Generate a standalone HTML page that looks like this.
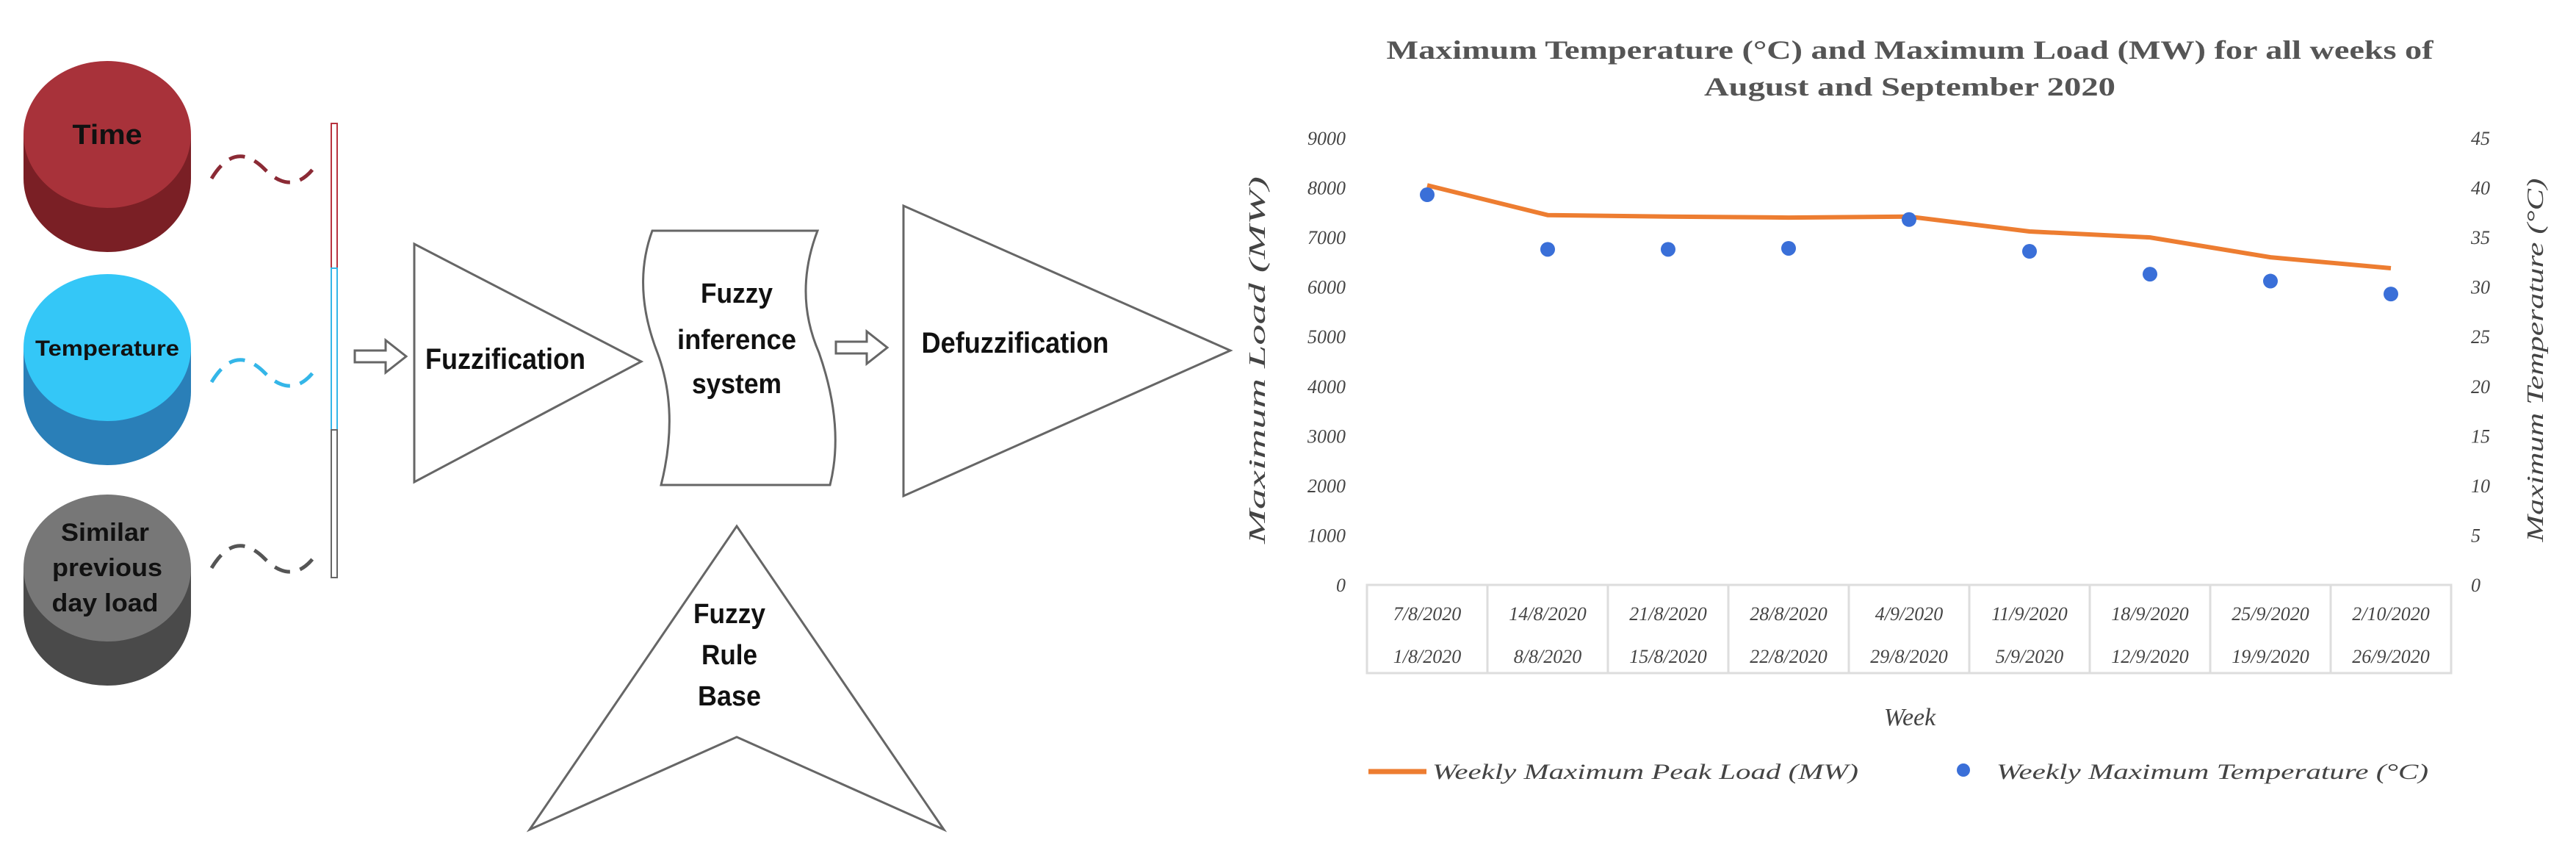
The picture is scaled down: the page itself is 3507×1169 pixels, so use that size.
<!DOCTYPE html>
<html><head><meta charset="utf-8"><style>
html,body{margin:0;padding:0;background:#fff;}
svg{display:block;}
.dg{font-family:"Liberation Sans",sans-serif;font-weight:bold;fill:#111;}
.sf{font-family:"Liberation Serif",serif;font-style:italic;fill:#444;}
</style></head><body>
<svg id="root" width="3507" height="1169" viewBox="0 0 3507 1169">
<g>
  <g>
    <rect x="32" y="183" width="228" height="60" fill="#7a1f25"/>
    <ellipse cx="146" cy="243" rx="114" ry="100" fill="#7a1f25"/>
    <ellipse cx="146" cy="183" rx="114" ry="100" fill="#a8323a"/>
    <text class="dg" x="146" y="196" font-size="38" text-anchor="middle" textLength="95" lengthAdjust="spacingAndGlyphs">Time</text>
  </g>
  <g>
    <rect x="32" y="473" width="228" height="60" fill="#2a7fb8"/>
    <ellipse cx="146" cy="533" rx="114" ry="100" fill="#2a7fb8"/>
    <ellipse cx="146" cy="473" rx="114" ry="100" fill="#34c7f7"/>
    <text class="dg" x="146" y="484" font-size="30" text-anchor="middle" textLength="196" lengthAdjust="spacingAndGlyphs">Temperature</text>
  </g>
  <g>
    <rect x="32" y="773" width="228" height="60" fill="#4a4a4a"/>
    <ellipse cx="146" cy="833" rx="114" ry="100" fill="#4a4a4a"/>
    <ellipse cx="146" cy="773" rx="114" ry="100" fill="#777"/>
    <text class="dg" x="143" y="736" font-size="34" text-anchor="middle" fill="#222" textLength="120" lengthAdjust="spacingAndGlyphs">Similar</text>
    <text class="dg" x="146" y="784" font-size="34" text-anchor="middle" fill="#222" textLength="150" lengthAdjust="spacingAndGlyphs">previous</text>
    <text class="dg" x="143" y="832" font-size="34" text-anchor="middle" fill="#222" textLength="145" lengthAdjust="spacingAndGlyphs">day load</text>
  </g>
  <g fill="none" stroke-width="5" stroke-dasharray="22 14">
    <path d="M288 243 Q320 190 360 230 T432 222" stroke="#8b2a35"/>
    <path d="M288 520 Q320 467 360 507 T432 499" stroke="#34b6e8"/>
    <path d="M288 773 Q320 720 360 760 T432 752" stroke="#555"/>
  </g>
  <g>
    <rect x="451" y="168" width="8" height="197" fill="#fff" stroke="#b8333f" stroke-width="2"/>
    <rect x="451" y="365" width="8" height="220" fill="#fff" stroke="#34b6e8" stroke-width="2"/>
    <rect x="451" y="585" width="8" height="201" fill="#fff" stroke="#666" stroke-width="2"/>
  </g>
  <g fill="#fff" stroke="#666" stroke-width="3">
    <path d="M483 477 h42 v-14 l28 22 l-28 22 v-14 h-42 z"/>
    <path d="M1138 465 h42 v-14 l28 22 l-28 22 v-14 h-42 z"/>
    <path d="M564 332 L564 656 L873 492 Z"/>
    <path d="M888 314 L1113 314 Q1080 400 1115 480 Q1150 580 1130 660 L900 660 Q925 560 895 480 Q860 390 888 314 Z"/>
    <path d="M1230 280 L1230 675 L1675 477 Z"/>
    <path d="M1003 716 L1285 1129 L1003 1003 L721 1129 Z"/>
  </g>
  <text class="dg" x="688" y="502" font-size="40" text-anchor="middle" textLength="218" lengthAdjust="spacingAndGlyphs">Fuzzification</text>
  <g class="dg" font-size="38" text-anchor="middle">
    <text x="1003" y="412" textLength="98" lengthAdjust="spacingAndGlyphs">Fuzzy</text>
    <text x="1003" y="475" textLength="162" lengthAdjust="spacingAndGlyphs">inference</text>
    <text x="1003" y="535" textLength="122" lengthAdjust="spacingAndGlyphs">system</text>
  </g>
  <text class="dg" x="1382" y="480" font-size="40" text-anchor="middle" textLength="255" lengthAdjust="spacingAndGlyphs">Defuzzification</text>
  <g class="dg" font-size="38" text-anchor="middle">
    <text x="993" y="848" textLength="98" lengthAdjust="spacingAndGlyphs">Fuzzy</text>
    <text x="993" y="904" textLength="76" lengthAdjust="spacingAndGlyphs">Rule</text>
    <text x="993" y="960" textLength="86" lengthAdjust="spacingAndGlyphs">Base</text>
  </g>
</g>
<g id="chart">
  <text x="2600" y="80" font-family="Liberation Serif,serif" font-weight="bold" font-size="36" fill="#555" text-anchor="middle" textLength="1425" lengthAdjust="spacingAndGlyphs">Maximum Temperature (°C) and Maximum Load (MW) for all weeks of</text>
  <text x="2600" y="130" font-family="Liberation Serif,serif" font-weight="bold" font-size="36" fill="#555" text-anchor="middle" textLength="560" lengthAdjust="spacingAndGlyphs">August and September 2020</text>
  <text class="sf" transform="translate(1722,490) rotate(-90)" font-size="32" text-anchor="middle" textLength="500" lengthAdjust="spacingAndGlyphs">Maximum Load (MW)</text>
  <text class="sf" transform="translate(3462,490) rotate(-90)" font-size="32" text-anchor="middle" textLength="495" lengthAdjust="spacingAndGlyphs">Maximum Temperature (°C)</text>
  <text class="sf" x="2600" y="987" font-size="34" text-anchor="middle">Week</text>
  <g>
    <line x1="1863" y1="1050" x2="1942" y2="1050" stroke="#ed7d31" stroke-width="7"/>
    <text class="sf" x="1950" y="1060" font-size="30" textLength="580" lengthAdjust="spacingAndGlyphs">Weekly Maximum Peak Load (MW)</text>
    <circle cx="2673" cy="1048" r="9" fill="#3a6fd8"/>
    <text class="sf" x="2718" y="1060" font-size="30" textLength="588" lengthAdjust="spacingAndGlyphs">Weekly Maximum Temperature (°C)</text>
  </g>
  <g id="axes"></g>
  <g id="marks"></g>
</g>
</svg>
<script>
const weekEnd = ["7/8/2020","14/8/2020","21/8/2020","28/8/2020","4/9/2020","11/9/2020","18/9/2020","25/9/2020","2/10/2020"];
const weekStart = ["1/8/2020","8/8/2020","15/8/2020","22/8/2020","29/8/2020","5/9/2020","12/9/2020","19/9/2020","26/9/2020"];
const loadValues = [8050, 7450, 7420, 7400, 7420, 7120, 7000, 6600, 6380];
const tempValues = [39.3, 33.8, 33.8, 33.9, 36.8, 33.6, 31.3, 30.6, 29.3];
const loadTicks = [0,1000,2000,3000,4000,5000,6000,7000,8000,9000];
const tempTicks = [0,5,10,15,20,25,30,35,40,45];

const NS = "http://www.w3.org/2000/svg";
const X0 = 1861, X1 = 3337, Y0 = 796, Y1 = 188;
const band = (X1 - X0) / weekEnd.length;
const xPos = i => X0 + band * (i + 0.5);
const yLoad = v => Y0 - (v / 9000) * (Y0 - Y1);
const yTemp = v => Y0 - (v / 45) * (Y0 - Y1);
function mk(tag, attrs, parent) {
  const e = document.createElementNS(NS, tag);
  for (const k in attrs) e.setAttribute(k, attrs[k]);
  parent.appendChild(e);
  return e;
}
const axes = document.getElementById('axes');
const marks = document.getElementById('marks');

loadTicks.forEach(t => {
  const el = mk('text', {x: 1832, y: yLoad(t) + 9, 'font-size': 26, 'text-anchor': 'end', class: 'sf'}, axes);
  el.textContent = t;
  
  
});
tempTicks.forEach(t => {
  const el = mk('text', {x: 3364, y: yTemp(t) + 9, 'font-size': 26, 'text-anchor': 'start', class: 'sf'}, axes);
  el.textContent = t;
  
  
});
const tbl = mk('rect', {x: X0, y: Y0, width: X1 - X0, height: 120, fill: 'none', stroke: '#ddd', 'stroke-width': 3}, axes);


weekEnd.forEach((lab, i) => {
  if (i > 0) {
    const d = mk('line', {x1: X0 + band * i, x2: X0 + band * i, y1: Y0, y2: Y0 + 120, stroke: '#ddd', 'stroke-width': 3}, axes);
    
    
  }
  const a = mk('text', {x: xPos(i), y: 844, 'font-size': 26, 'text-anchor': 'middle', class: 'sf'}, axes);
  a.textContent = lab;
  
  
  const b = mk('text', {x: xPos(i), y: 902, 'font-size': 26, 'text-anchor': 'middle', class: 'sf'}, axes);
  b.textContent = weekStart[i];
  
  
});
const pts = loadValues.map((v, i) => xPos(i) + ',' + yLoad(v)).join(' ');
const line = mk('polyline', {points: pts, fill: 'none', stroke: '#ed7d31', 'stroke-width': 6, 'stroke-linejoin': 'round'}, marks);


tempValues.forEach((v, i) => {
  const c = mk('circle', {cx: xPos(i), cy: yTemp(v), r: 10, fill: '#3a6fd8'}, marks);
  
  
});
</script>
</body></html>
